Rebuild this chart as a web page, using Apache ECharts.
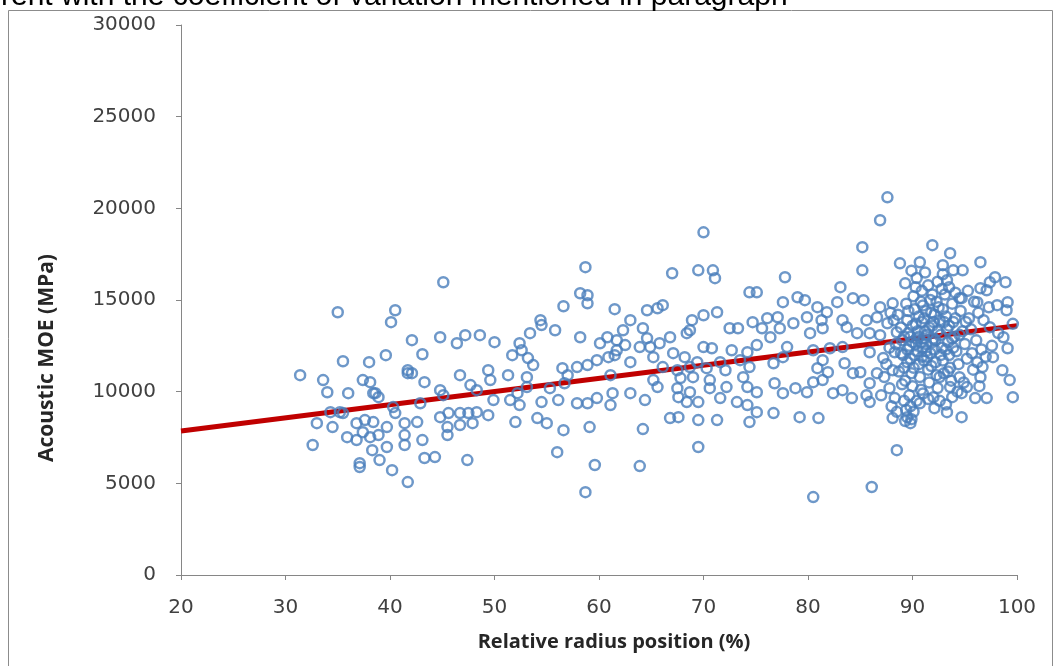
<!DOCTYPE html>
<html>
<head>
<meta charset="utf-8">
<style>
  html, body { margin: 0; padding: 0; background: #fff; }
  #chart { width: 1055px; height: 666px; }
</style>
<script src="https://cdn.jsdelivr.net/npm/echarts@6.0.0/dist/echarts.min.js"></script>
</head>
<body>
<div id="chart"></div>
<script>
// axis ranges [min, max, step]
const xRange = [20, 100, 10]
const yRange = [0, 30000, 5000]

const xTitle = 'Relative radius position (%)'
const yTitle = 'Acoustic MOE (MPa)'
const topLine = 'rent with the coefficient of variation mentioned in paragraph'

// [relative radius position (%), acoustic MOE (MPa)]
const moePoints = [
  // 31 - 45 %
  [35.0,14330],[40.5,14440],[40.1,13790],[42.1,12810],[44.8,12970],[45.1,15970],[43.1,12040],[39.6,11990],
  [38.0,11610],[35.5,11660],[31.4,10900],[33.6,10630],[34.0,9970],[36.0,9920],[37.4,10630],[38.1,10520],
  [38.4,9920],[38.9,9700],[41.7,11010],[42.1,11010],[43.3,10520],[44.8,10080],[45.1,9810],[35.2,8880],
  [35.5,8830],[34.3,8880],[33.0,8280],[34.5,8070],[32.6,7090],[36.8,8280],[37.6,8450],[38.4,8340],
  [40.5,8830],[41.4,8280],[42.6,8340],[35.9,7520],[36.8,7360],[37.4,7790],[38.1,7520],[38.9,7630],
  [39.7,6980],[38.3,6810],[39.0,6270],[37.1,6100],[37.1,5890],[40.2,5720],[41.7,5070],[41.4,7090],
  [43.1,7360],[43.3,6380],[44.3,6430],[41.4,7630],[39.7,8070],[40.3,9160],[38.6,9920],[42.9,9370],
  [44.8,8610],[45.5,8070],[41.7,11170],
  // 45 - 61 %
  [58.7,16790],[58.2,15370],[58.9,15260],[58.9,14820],[56.6,14660],[61.5,14500],[54.4,13900],[54.5,13630],
  [55.8,13350],[53.4,13190],[58.2,12970],[52.4,12640],[51.7,11990],[52.6,12260],[53.2,11830],[53.7,11450],
  [50.0,12700],[48.6,13080],[47.2,13080],[46.4,12640],[60.1,12640],[60.8,12970],[61.7,12810],[59.8,11720],
  [60.9,11880],[61.7,12260],[58.9,11450],[57.9,11340],[56.5,11280],[57.0,10900],[46.7,10900],[49.4,11170],
  [49.6,10630],[51.3,10900],[53.1,10790],[47.7,10360],[48.3,10080],[52.2,9920],[53.1,10250],[55.3,10190],
  [56.7,10460],[61.1,10900],[61.3,9920],[49.9,9540],[51.5,9540],[52.4,9270],[54.5,9430],[56.1,9540],
  [57.9,9370],[58.9,9370],[59.8,9650],[61.1,9270],[45.6,8830],[46.7,8830],[47.5,8830],[48.3,8880],
  [49.4,8720],[46.7,8180],[47.9,8280],[45.5,7630],[52.0,8340],[54.1,8560],[55.0,8280],[56.6,7900],
  [59.1,8070],[56.0,6700],[47.4,6270],[59.6,6000],[58.7,4520],
  // 61 - 78 %
  [70.0,18690],[67.0,16460],[69.5,16620],[70.9,16620],[71.1,16190],[74.4,15420],[75.1,15420],[77.8,16240],
  [77.6,14880],[63.0,13900],[64.6,14440],[65.6,14550],[66.1,14720],[68.9,13900],[70.0,14170],[71.3,14330],
  [72.5,13460],[73.3,13460],[74.7,13790],[76.1,14010],[77.1,14060],[77.3,13460],[75.6,13460],[64.2,13460],
  [62.3,13350],[68.7,13350],[68.4,13190],[66.8,12970],[64.6,12920],[64.9,12430],[63.9,12430],[62.5,12540],
  [65.8,12640],[70.0,12430],[70.8,12370],[72.7,12260],[75.1,12540],[76.4,12970],[78.0,12430],[61.5,11990],
  [63.0,11610],[65.2,11880],[67.1,12100],[68.2,11880],[69.4,11610],[71.6,11610],[73.5,11720],[74.2,12150],
  [76.7,11550],[77.6,11880],[66.1,11340],[67.5,11170],[68.7,11340],[70.3,11280],[72.1,11170],[74.4,11340],
  [65.2,10630],[67.8,10740],[69.0,10790],[70.6,10630],[73.8,10790],[76.8,10460],[65.6,10250],[67.5,10190],
  [68.7,9970],[70.6,10190],[72.2,10250],[74.2,10250],[75.1,9970],[77.6,9920],[63.0,9920],[64.4,9540],
  [67.6,9700],[68.4,9430],[69.5,9430],[71.6,9650],[73.2,9430],[74.2,9270],[75.1,8880],[76.7,8830],
  [66.8,8560],[67.6,8610],[69.5,8450],[71.3,8450],[74.4,8340],[64.2,7960],[69.5,6980],[63.9,5940],
  // 78 - 89 %
  [87.6,20600],[86.9,19350],[85.2,17880],[85.2,16620],[88.8,17000],[83.1,15700],[89.3,15910],[79.0,15150],
  [79.7,14990],[80.9,14610],[81.8,14330],[82.8,14880],[84.3,15100],[85.3,14990],[86.9,14610],[88.1,14820],
  [78.6,13730],[79.9,14060],[81.3,13900],[83.3,13900],[83.7,13520],[84.7,13190],[85.6,13900],[86.6,14060],
  [87.6,13730],[80.2,13190],[81.4,13460],[85.9,13190],[86.9,13080],[88.5,13240],[80.5,12260],[82.1,12370],
  [83.3,12430],[85.9,12150],[87.2,11830],[88.3,12150],[81.4,11720],[83.5,11550],[80.9,11280],[81.9,11060],
  [84.3,11010],[85.0,11060],[86.6,11010],[88.1,11170],[81.4,10630],[80.5,10520],[85.9,10460],[87.8,10190],
  [78.8,10190],[79.9,9970],[82.4,9920],[83.3,10080],[84.2,9650],[85.6,9810],[85.9,9430],[88.3,9650],
  [79.2,8610],[81.0,8560],[88.1,8560],[88.5,6810],[86.1,4800],[80.5,4250],
  // 89 - 100 %
  [91.9,17990],[93.6,17550],[90.7,17060],[96.5,17060],[92.9,16900],[93.9,16620],[94.8,16620],[97.9,16240],
  [98.9,15970],[97.4,15970],[93.3,16080],[96.5,15640],[97.1,15530],[99.1,14880],[98.1,14720],[99.0,14440],
  [94.5,15100],[96.2,14880],[99.6,13700],[97.4,13520],[98.7,12970],[99.1,12370],[97.7,11880],[96.7,11340],
  [98.6,11170],[99.3,10630],[96.5,10790],[95.2,10250],[94.5,10790],[99.6,9700],[97.1,9650],[96.0,9650],
  [94.7,9920],[93.3,8880],[94.7,8610],[93.6,10250],[92.0,9700],[90.7,9370],[89.5,8610],[89.8,8280],
  [89.3,8400],[89.9,8500],[89.4,9000],[89.8,9200],[90.1,8900],[89.2,9500],[89.7,9800],
  // dense cluster around 88 - 96 %
  [88.6,14200],[88.9,13500],[89.0,12800],[89.1,12000],[89.2,11300],[89.3,10600],[89.4,14800],[89.5,13900],
  [89.6,13200],[89.7,12500],[89.8,11800],[89.9,11000],[90.0,10300],[90.1,15200],[90.2,14500],[90.3,13700],
  [90.4,12900],[90.5,12200],[90.6,11500],[90.7,10800],[90.8,10100],[90.9,15500],[91.0,14700],[91.1,14000],
  [91.2,13300],[91.3,12600],[91.4,11900],[91.5,11200],[91.6,10500],[91.7,15000],[91.8,14300],[91.9,13600],
  [92.0,12900],[92.1,12300],[92.2,11600],[92.3,10900],[92.4,10200],[92.5,14600],[92.6,13900],[92.7,13100],
  [92.8,12400],[92.9,11700],[93.0,11000],[93.1,15300],[93.2,14100],[93.3,13400],[93.4,12700],[93.5,12000],
  [93.6,11300],[93.7,10600],[93.8,14800],[93.9,13800],[94.0,13000],[94.2,12200],[94.4,11500],[94.6,14400],
  [94.8,13300],[95.0,12600],[95.2,11800],[95.4,14000],[90.2,12000],[90.5,13300],[90.8,12700],[91.1,11700],
  [91.4,13100],[91.0,12400],[90.6,14100],[91.7,12100],[92.0,13800],[92.3,14900],[91.5,15800],[90.4,16200],
  [91.2,16500],[92.4,16000],[89.9,16600],[92.9,16400],[93.5,15700],[94.1,15400],[94.7,15100],[95.3,15500],
  [95.9,14900],[96.3,14300],[96.8,13900],[97.3,14600],[95.6,13400],[96.1,12800],[96.6,12300],[97.0,11900],
  [97.6,12500],[98.2,13200],[95.8,11200],[96.4,10300],[94.9,10500],[94.3,10000],[93.8,9700],[93.2,9300],
  [92.6,9500],[92.1,9100],[91.5,9600],[91.0,9900],[90.4,9500],[89.0,10400],[88.7,11100],[88.4,12600],
  [88.2,13900],[87.9,14300],[87.8,12400],[87.5,11500],[87.3,10800],[87.0,9800],[88.0,9200],[88.5,8900],
  [89.5,12300],[89.8,13000],[90.0,13600],[90.3,12600],[90.6,13000],[90.9,13800],[91.1,12900],[91.3,14400],
  [91.6,13500],[91.9,12700],[92.1,14200],[92.4,13300],[92.7,12000],[92.9,14500],[93.2,12300],[93.5,13600],
  [93.8,12900],[94.1,14000],[90.1,11300],[90.9,11900],[91.8,11400],[92.6,10800],[93.4,11100],[89.6,14400],
  [90.8,14900],[91.9,15300],[92.8,15600],[90.3,15700],[89.2,13000],[88.9,12100],[89.5,11600],[90.0,12700],
  [91.3,12200],[92.2,12800],[93.0,13800],[93.9,12400],[94.5,13100],[95.1,13800],[95.7,12100],[96.2,11600]
]

// linear trend line end points
const trendLine = [[20, 7850], [100, 13600]]

const tickFont = 'DejaVu Sans'
const chart = echarts.init(document.getElementById('chart'))

chart.setOption({
  animation: false,
  backgroundColor: '#fff',
  grid: { left: 181, right: 38, top: 25, bottom: 91 },
  xAxis: {
    type: 'value',
    min: xRange[0], max: xRange[1], interval: xRange[2],
    axisLine: { lineStyle: { color: '#868686', width: 1 } },
    axisTick: { show: true, length: 5, lineStyle: { color: '#868686' } },
    axisLabel: { margin: 23, fontFamily: tickFont, fontSize: 20, color: '#404040' },
    splitLine: { show: false }
  },
  yAxis: {
    type: 'value',
    min: yRange[0], max: yRange[1], interval: yRange[2],
    axisLine: { show: true, lineStyle: { color: '#868686', width: 1 } },
    axisTick: { show: true, length: 5, lineStyle: { color: '#868686' } },
    axisLabel: {
      margin: 25, fontFamily: tickFont, fontSize: 20, color: '#404040',
      formatter: v => String(v)
    },
    splitLine: { show: false }
  },
  graphic: [
    {
      type: 'rect',
      shape: { x: 8.5, y: 10.5, width: 1044, height: 700 },
      style: { fill: 'none', stroke: '#8c8c8c', lineWidth: 1 },
      silent: true
    },
    {
      type: 'text',
      x: 1, y: 12,
      style: {
        text: topLine,
        font: '30px "Liberation Sans"', fill: '#000', verticalAlign: 'bottom'
      }
    },
    {
      type: 'text',
      x: 47, y: 358,
      rotation: Math.PI / 2,
      style: {
        text: yTitle,
        font: 'bold 21px "Open Sans"', fill: '#262626', align: 'center', verticalAlign: 'middle'
      }
    },
    {
      type: 'text',
      x: 614, y: 642,
      style: {
        text: xTitle,
        font: 'bold 20px "Open Sans"', fill: '#262626', align: 'center', verticalAlign: 'middle'
      }
    }
  ],
  series: [
    {
      name: 'trend',
      type: 'line',
      data: trendLine,
      symbol: 'none',
      z: 1,
      lineStyle: { color: '#c00000', width: 5 }
    },
    {
      name: 'MOE',
      type: 'scatter',
      data: moePoints,
      z: 2,
      symbol: 'circle',
      symbolSize: 10,
      itemStyle: { color: 'rgba(255,255,255,0)', borderColor: '#4a7ebb', borderWidth: 2.5 }
    }
  ]
})
</script>
</body>
</html>
